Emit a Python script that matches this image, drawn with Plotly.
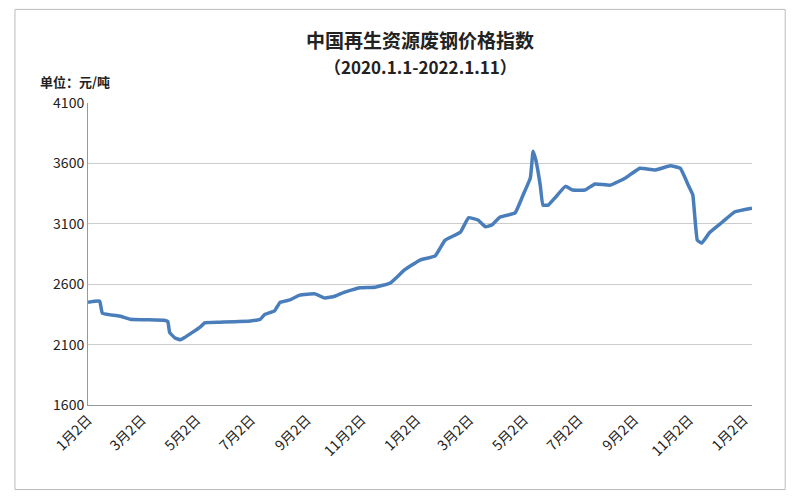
import plotly.graph_objects as go

dates = ["2020-01-02","2020-01-15","2020-01-18","2020-02-07","2020-02-18","2020-03-28","2020-03-31",
"2020-04-02","2020-04-08","2020-04-14","2020-04-19","2020-04-25","2020-05-06","2020-05-11","2020-05-28",
"2020-07-01","2020-07-12","2020-07-17","2020-07-28","2020-08-03","2020-08-14","2020-08-25","2020-09-11",
"2020-09-22","2020-10-03","2020-10-14","2020-10-31","2020-11-17","2020-12-04","2020-12-20","2021-01-06",
"2021-01-23","2021-02-03","2021-02-20","2021-03-01","2021-03-12","2021-03-20","2021-03-27","2021-04-05",
"2021-04-22","2021-05-01","2021-05-09","2021-05-12","2021-05-15","2021-05-20","2021-05-23","2021-05-29",
"2021-06-06","2021-06-17","2021-06-25","2021-07-09","2021-07-20","2021-08-06","2021-08-23","2021-09-08",
"2021-09-25","2021-10-12","2021-10-23","2021-11-01","2021-11-06","2021-11-11","2021-11-16","2021-11-25",
"2021-12-09","2021-12-23","2022-01-11"]
values = [2450,2460,2360,2335,2310,2300,2290,
2200,2155,2140,2160,2190,2245,2280,2285,
2295,2310,2350,2380,2450,2470,2510,2520,
2485,2500,2535,2570,2575,2610,2720,2800,
2835,2965,3030,3150,3130,3075,3090,3155,
3190,3340,3480,3700,3630,3420,3255,3255,
3320,3410,3380,3380,3430,3420,3480,3560,
3545,3580,3560,3420,3340,2965,2940,3030,
3115,3200,3230]
tick_vals = ["2020-01-02","2020-03-02","2020-05-02","2020-07-02","2020-09-02","2020-11-02",
"2021-01-02","2021-03-02","2021-05-02","2021-07-02","2021-09-02","2021-11-02","2022-01-02"]
tick_text = ["1月2日","3月2日","5月2日","7月2日","9月2日","11月2日",
"1月2日","3月2日","5月2日","7月2日","9月2日","11月2日","1月2日"]
y_ticks = [1600,2100,2600,3100,3600,4100]

F = "Noto Sans CJK SC"
fig = go.Figure(go.Scatter(x=dates, y=values, mode="lines",
    line=dict(color="#4a7ebb", width=3.5, shape="spline", smoothing=0.3)))
fig.update_layout(
    width=800, height=500, paper_bgcolor="white", plot_bgcolor="white",
    margin=dict(l=80, r=56, t=95, b=103, autoexpand=False), showlegend=False,
    font=dict(family=F, color="#222", size=12),
    shapes=[dict(type="rect", xref="paper", yref="paper", x0=-0.11, x1=1.05, y0=-0.28, y1=1.31,
                 line=dict(color="#bbb", width=1))],
    annotations=[
        dict(text="<b>中国再生资源废钢价格指数</b>", x=0.5, y=1.21, xref="paper", yref="paper",
             xanchor="center", yanchor="middle", showarrow=False, font=dict(size=19, family=F)),
        dict(text="<b>（2020.1.1-2022.1.11）</b>", x=0.5, y=1.12, xref="paper", yref="paper",
             xanchor="center", yanchor="middle", showarrow=False, font=dict(size=17, family=F)),
        dict(text="<b>单位：元/吨</b>", x=-0.075, y=1.07, xref="paper", yref="paper",
             xanchor="left", yanchor="middle", showarrow=False, font=dict(size=13, family=F)),
    ],
)
fig.update_xaxes(type="date", range=["2020-01-02","2022-01-11"], tickvals=tick_vals, ticktext=tick_text,
    tickangle=-45, showgrid=False, showline=True, linecolor="#999", ticks="",
    tickfont=dict(size=14, family=F))
fig.update_yaxes(range=[1600,4100], tickvals=y_ticks, showgrid=True, gridcolor="#ccc",
    showline=True, linecolor="#999", zeroline=False, tickfont=dict(size=14, family=F), ticksuffix=" ")
fig.write_html("out.html")
